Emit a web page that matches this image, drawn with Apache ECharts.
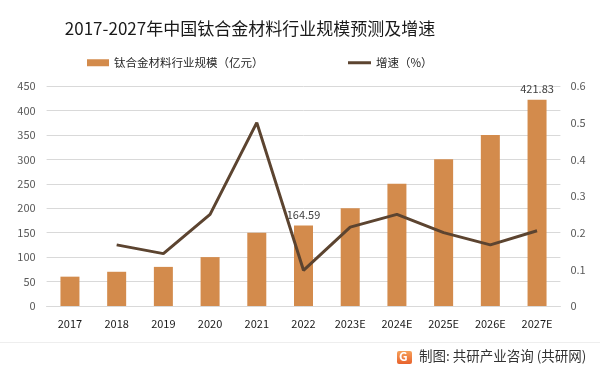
<!DOCTYPE html>
<html><head><meta charset="utf-8">
<script src="https://cdn.jsdelivr.net/npm/echarts@6/dist/echarts.min.js"></script>
<style>html,body{margin:0;padding:0;background:#fff}#c{width:600px;height:370px}</style>
</head><body><div id="c"></div>
<script>
var categories = ['2017','2018','2019','2020','2021','2022','2023E','2024E','2025E','2026E','2027E'];
var scaleValues = [60, 70, 80, 100, 150, 164.59, 200, 250, 300, 350, 421.83];
var growthValues = [null, 0.1667, 0.1429, 0.25, 0.5, 0.0973, 0.2151, 0.25, 0.2, 0.1667, 0.2052];
var leftTicks = [0, 50, 100, 150, 200, 250, 300, 350, 400, 450];
var rightTicks = [0, 0.1, 0.2, 0.3, 0.4, 0.5, 0.6];
var labeledBars = ['2022', '2027E'];

var font = '"Noto Sans CJK SC", "Noto Sans", sans-serif';
var chart = echarts.init(document.getElementById('c'), null, {renderer: 'canvas'});
chart.setOption({
  animation: false,
  backgroundColor: '#fff',
  textStyle: {fontFamily: font},
  title: {
    text: '2017-2027年中国钛合金材料行业规模预测及增速',
    left: 245, top: 15, textAlign: 'center',
    textStyle: {fontSize: 17, fontWeight: 'normal', color: '#1a1a1a', fontFamily: font}
  },
  legend: [
    {
      top: 57, left: 87, itemGap: 10, padding: 0,
      itemWidth: 22, itemHeight: 7,
      textStyle: {fontSize: 11.5, color: '#262626', fontFamily: font},
      data: [{name: '钛合金材料行业规模（亿元）', icon: 'rect'}]
    },
    {
      top: 57, left: 348, itemGap: 10, padding: 0,
      itemWidth: 23, itemHeight: 3,
      textStyle: {fontSize: 11.5, color: '#262626', fontFamily: font},
      data: [{name: '增速（%）', icon: 'rect', itemStyle: {color: '#5C4430'}}]
    }
  ],
  grid: {left: 46.6, right: 39.6, top: 86, bottom: 64, containLabel: false},
  xAxis: {
    type: 'category', data: categories,
    axisLine: {lineStyle: {color: '#d9d9d9'}},
    axisTick: {show: false},
    axisLabel: {color: '#1a1a1a', fontSize: 11, margin: 12, fontFamily: font}
  },
  yAxis: [
    {
      type: 'value', min: leftTicks[0], max: leftTicks[leftTicks.length-1], interval: 50,
      axisLine: {show: false}, axisTick: {show: false},
      axisLabel: {color: '#595959', fontSize: 11, margin: 11, fontFamily: font},
      splitLine: {lineStyle: {color: '#d9d9d9'}}
    },
    {
      type: 'value', min: rightTicks[0], max: rightTicks[rightTicks.length-1], interval: 0.1,
      axisLine: {show: false}, axisTick: {show: false},
      axisLabel: {color: '#595959', fontSize: 11, margin: 10, fontFamily: font,
        formatter: function(v){ return String(Math.round(v*10)/10); }},
      splitLine: {show: false}
    }
  ],
  series: [
    {
      name: '钛合金材料行业规模（亿元）', type: 'bar', barWidth: 19,
      itemStyle: {color: '#D38B4C'},
      data: scaleValues.map(function(v, i){
        var o = {value: v};
        if (labeledBars.indexOf(categories[i]) >= 0) {
          o.label = {show: true, position: 'top', distance: 5, color: '#404040', fontSize: 11, fontFamily: font};
        }
        return o;
      })
    },
    {
      name: '增速（%）', type: 'line', yAxisIndex: 1,
      data: growthValues, symbol: 'none', connectNulls: false,
      lineStyle: {color: '#5C4430', width: 3},
      itemStyle: {color: '#5C4430'}
    }
  ],
  graphic: [
    {type: 'rect', shape: {x: 0, y: 342, width: 600, height: 1}, style: {fill: '#eeeeee'}, silent: true},
    {type: 'rect', shape: {x: 397, y: 351, width: 15, height: 13, r: 2},
      style: {fill: new echarts.graphic.LinearGradient(0,0,0,1,[{offset:0,color:'#F6A15A'},{offset:1,color:'#E8622C'}])}},
    {type: 'text', left: 399, top: 350, style: {text: 'G', fill: '#fff', font: 'bold 12px ' + font}},
    {type: 'text', left: 419, top: 349, style: {text: '制图: 共研产业咨询 (共研网)', fill: '#333', font: '13.5px ' + font}}
  ]
});
</script></body></html>
